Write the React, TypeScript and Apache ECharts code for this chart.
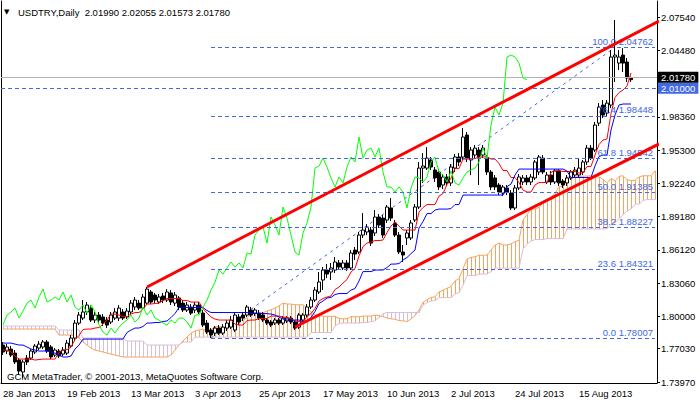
import React, { useEffect, useRef } from 'react';
import * as echarts from 'echarts';

// ---------- data ----------
const symbol = 'USDTRY';
const period = 'Daily';
const dateTicks = ['28 Jan 2013', '19 Feb 2013', '13 Mar 2013', '3 Apr 2013', '25 Apr 2013', '17 May 2013', '10 Jun 2013', '2 Jul 2013', '24 Jul 2013', '15 Aug 2013'];
const TICK_EVERY = 16;
const SLOTS = 164; // visible bar slots (bars + projected cloud)

const open = [
  1.7737, 1.7682, 1.7700, 1.7663, 1.7599, 1.7489, 1.7617, 1.7617, 1.7673, 1.7709,
  1.7719, 1.7765, 1.7719, 1.7645, 1.7682, 1.7654, 1.7663, 1.7728, 1.7801, 1.7939,
  1.7985, 1.8041, 1.8077, 1.7967, 1.8013, 1.7995, 1.7967, 1.7949, 1.7985, 1.7985,
  1.8041, 1.7995, 1.8041, 1.8087, 1.8123, 1.8077, 1.8123, 1.8225, 1.8197, 1.8133,
  1.8188, 1.8151, 1.8216, 1.8123, 1.8170, 1.8123, 1.8059, 1.8087, 1.8059, 1.8105,
  1.8031, 1.7939, 1.7875, 1.7847, 1.7893, 1.7847, 1.7893, 1.7902, 1.7875, 1.7995,
  1.8013, 1.8013, 1.8059, 1.8031, 1.8031, 1.8013, 1.7967, 1.7949, 1.7939, 1.7967,
  1.7939, 1.7958, 1.7985, 1.7949, 1.7902, 1.7967, 1.8013, 1.8087, 1.8151, 1.8225,
  1.8335, 1.8427, 1.8409, 1.8427, 1.8492, 1.8446, 1.8492, 1.8446, 1.8611, 1.8593,
  1.8749, 1.8777, 1.8795, 1.8768, 1.8915, 1.8905, 1.8887, 1.8998, 1.8860, 1.8749,
  1.8593, 1.8722, 1.8722, 1.8887, 1.9007, 1.9365, 1.9365, 1.9439, 1.9347, 1.9329,
  1.9209, 1.9283, 1.9228, 1.9365, 1.9467, 1.9467, 1.9669, 1.9439, 1.9485, 1.9531,
  1.9485, 1.9457, 1.9329, 1.9274, 1.9209, 1.9135, 1.9182, 1.9135, 1.8998, 1.9182,
  1.9237, 1.9274, 1.9237, 1.9274, 1.9329, 1.9457, 1.9237, 1.9301, 1.9237, 1.9338,
  1.9246, 1.9228, 1.9274, 1.9301, 1.9301, 1.9329, 1.9421, 1.9549, 1.9531, 1.9779,
  1.9945, 1.9871, 1.9945, 2.0387, 2.0331, 2.0405, 2.0341, 2.0199,
];
const high = [
  1.7765, 1.7746, 1.7728, 1.7691, 1.7617, 1.7599, 1.7645, 1.7700, 1.7746, 1.7774,
  1.7783, 1.7783, 1.7737, 1.7709, 1.7700, 1.7719, 1.7783, 1.7829, 1.7967, 1.8041,
  1.8151, 1.8133, 1.8105, 1.8041, 1.8041, 1.8022, 1.7995, 1.8041, 1.8077, 1.8105,
  1.8068, 1.8077, 1.8151, 1.8179, 1.8151, 1.8207, 1.8271, 1.8243, 1.8216, 1.8207,
  1.8216, 1.8252, 1.8243, 1.8225, 1.8188, 1.8151, 1.8133, 1.8114, 1.8133, 1.8133,
  1.8059, 1.7967, 1.7893, 1.7912, 1.7921, 1.7930, 1.7967, 1.8004, 1.8041, 1.8022,
  1.8041, 1.8105, 1.8087, 1.8077, 1.8059, 1.8041, 1.7985, 1.7967, 1.7985, 1.7985,
  1.8004, 1.8004, 1.8004, 1.7967, 1.8031, 1.8031, 1.8114, 1.8179, 1.8271, 1.8409,
  1.8455, 1.8483, 1.8492, 1.8547, 1.8519, 1.8519, 1.8519, 1.8611, 1.8639, 1.8777,
  1.8951, 1.8850, 1.8823, 1.8979, 1.8942, 1.8933, 1.9025, 1.9089, 1.8887, 1.8777,
  1.8657, 1.8795, 1.8887, 1.9034, 1.9421, 1.9503, 1.9558, 1.9467, 1.9375, 1.9356,
  1.9310, 1.9310, 1.9402, 1.9494, 1.9503, 1.9733, 1.9697, 1.9558, 1.9577, 1.9558,
  1.9577, 1.9485, 1.9347, 1.9301, 1.9228, 1.9209, 1.9209, 1.9163, 1.9209, 1.9310,
  1.9301, 1.9301, 1.9310, 1.9439, 1.9485, 1.9485, 1.9329, 1.9338, 1.9356, 1.9356,
  1.9264, 1.9301, 1.9347, 1.9375, 1.9457, 1.9439, 1.9577, 1.9577, 1.9789, 1.9963,
  1.9991, 1.9991, 2.0451, 2.0727, 2.0451, 2.0469, 2.0377, 2.02055,
];
const low = [
  1.7645, 1.7654, 1.7627, 1.7562, 1.7461, 1.7433, 1.7553, 1.7599, 1.7654, 1.7691,
  1.7700, 1.7663, 1.7608, 1.7627, 1.7617, 1.7636, 1.7645, 1.7709, 1.7783, 1.7921,
  1.7967, 1.8013, 1.7949, 1.7939, 1.7939, 1.7912, 1.7893, 1.7930, 1.7967, 1.7958,
  1.7967, 1.7976, 1.8022, 1.8059, 1.8059, 1.8059, 1.8105, 1.8114, 1.8123, 1.8114,
  1.8123, 1.8133, 1.8105, 1.8096, 1.8059, 1.8041, 1.8041, 1.8013, 1.8031, 1.8022,
  1.7902, 1.7838, 1.7801, 1.7820, 1.7829, 1.7829, 1.7866, 1.7884, 1.7857, 1.7921,
  1.7958, 1.7995, 1.7995, 1.8004, 1.7967, 1.7949, 1.7921, 1.7902, 1.7921, 1.7921,
  1.7921, 1.7939, 1.7930, 1.7875, 1.7884, 1.7949, 1.7995, 1.8068, 1.8133, 1.8207,
  1.8243, 1.8353, 1.8335, 1.8400, 1.8427, 1.8427, 1.8418, 1.8427, 1.8519, 1.8574,
  1.8722, 1.8749, 1.8648, 1.8740, 1.8814, 1.8722, 1.8860, 1.8878, 1.8731, 1.8574,
  1.8501, 1.8657, 1.8703, 1.8869, 1.8988, 1.9228, 1.9347, 1.9347, 1.9237, 1.9163,
  1.9172, 1.9200, 1.9200, 1.9329, 1.9384, 1.9439, 1.9421, 1.9301, 1.9457, 1.9209,
  1.9457, 1.9301, 1.9163, 1.9163, 1.9117, 1.9108, 1.9117, 1.8979, 1.8979, 1.9163,
  1.9209, 1.9209, 1.9209, 1.9255, 1.9301, 1.9310, 1.9218, 1.9209, 1.9218, 1.9200,
  1.9182, 1.9200, 1.9255, 1.9274, 1.9283, 1.9301, 1.9393, 1.9439, 1.9513, 1.9752,
  1.9825, 1.9844, 1.9917, 2.0157, 2.0267, 2.0249, 2.0157, 2.01573,
];
const close = [
  1.7673, 1.7719, 1.7645, 1.7581, 1.7498, 1.7581, 1.7581, 1.7682, 1.7728, 1.7746,
  1.7765, 1.7682, 1.7627, 1.7691, 1.7636, 1.7691, 1.7755, 1.7801, 1.7939, 1.8013,
  1.8041, 1.8105, 1.7967, 1.8013, 1.7967, 1.7939, 1.7921, 1.8013, 1.8041, 1.8077,
  1.7985, 1.8050, 1.8123, 1.8151, 1.8077, 1.8179, 1.8252, 1.8133, 1.8151, 1.8179,
  1.8151, 1.8225, 1.8133, 1.8197, 1.8087, 1.8059, 1.8105, 1.8031, 1.8105, 1.8041,
  1.7921, 1.7857, 1.7829, 1.7893, 1.7847, 1.7902, 1.7939, 1.7967, 1.8013, 1.7949,
  1.7985, 1.8087, 1.8013, 1.8059, 1.7985, 1.7967, 1.7939, 1.7921, 1.7967, 1.7939,
  1.7985, 1.7985, 1.7949, 1.7893, 1.8013, 1.8013, 1.8087, 1.8151, 1.8243, 1.8317,
  1.8427, 1.8390, 1.8446, 1.8501, 1.8455, 1.8492, 1.8446, 1.8584, 1.8574, 1.8749,
  1.8795, 1.8823, 1.8675, 1.8915, 1.8841, 1.8749, 1.9007, 1.8905, 1.8749, 1.8593,
  1.8565, 1.8768, 1.8860, 1.9007, 1.9365, 1.9384, 1.9457, 1.9375, 1.9274, 1.9191,
  1.9283, 1.9228, 1.9375, 1.9467, 1.9421, 1.9651, 1.9457, 1.9531, 1.9549, 1.9467,
  1.9549, 1.9329, 1.9191, 1.9191, 1.9145, 1.9191, 1.9145, 1.8998, 1.9182, 1.9283,
  1.9274, 1.9237, 1.9283, 1.9421, 1.9467, 1.9329, 1.9301, 1.9237, 1.9338, 1.9228,
  1.9209, 1.9274, 1.9329, 1.9347, 1.9365, 1.9421, 1.9549, 1.9457, 1.9761, 1.9927,
  1.9853, 1.9963, 2.0387, 2.0405, 2.0387, 2.0331, 2.0193, 2.0178,
];

// Ichimoku values read from the picture where the visible bars cannot supply the look-back
const tenkanEarly = [1.7691, 1.7691, 1.7673, 1.7636, 1.7608, 1.7608, 1.7608, 1.7608];
const kijunEarly = [
  1.7755, 1.7755, 1.7755, 1.7746, 1.7737, 1.7737, 1.7719, 1.7700, 1.7691, 1.7682,
  1.7682, 1.7682, 1.7673, 1.7663, 1.7645, 1.7627, 1.7627, 1.7636, 1.7700, 1.7737,
  1.7792, 1.7792, 1.7792, 1.7792, 1.7792,
];
const senkouAEarly = [
  1.7884, 1.7884, 1.7884, 1.7884, 1.7884, 1.7884, 1.7884, 1.7884, 1.7884, 1.7884,
  1.7884, 1.7884, 1.7884, 1.7884, 1.7829, 1.7829, 1.7829, 1.7829, 1.7829, 1.7801,
  1.7765, 1.7737, 1.7709, 1.7691, 1.7682, 1.7673, 1.7663, 1.7654, 1.7645, 1.7636,
  1.7627, 1.7627, 1.7627, 1.7627, 1.7627, 1.7627, 1.7627, 1.7627, 1.7627, 1.7627,
  1.7627, 1.7627, 1.7645, 1.7691, 1.7737, 1.7774, 1.7810, 1.7847, 1.7866, 1.7875,
  1.7884,
];
const senkouBEarly = [
  1.7912, 1.7912, 1.7912, 1.7912, 1.7912, 1.7912, 1.7912, 1.7912, 1.7912, 1.7912,
  1.7912, 1.7912, 1.7912, 1.7912, 1.7875, 1.7875, 1.7875, 1.7875, 1.7875, 1.7875,
  1.7801, 1.7801, 1.7801, 1.7801, 1.7801, 1.7801, 1.7801, 1.7801, 1.7801, 1.7801,
  1.7801, 1.7774, 1.7774, 1.7774, 1.7774, 1.7774, 1.7737, 1.7737, 1.7737, 1.7737,
  1.7737, 1.7737, 1.7737, 1.7737, 1.7737, 1.7765, 1.7765, 1.7765, 1.7810, 1.7810,
  1.7810, 1.7810, 1.7810, 1.7810, 1.7810, 1.7810, 1.7810, 1.7810, 1.7810, 1.7810,
  1.7810, 1.7810, 1.7810, 1.7810, 1.7810, 1.7810, 1.7810, 1.7810, 1.7810, 1.7810,
  1.7810, 1.7810, 1.7810, 1.7810, 1.7810, 1.7810, 1.7810,
];

const yTicks = [2.0754, 2.0448, 1.9836, 1.953, 1.9224, 1.8918, 1.8612, 1.8306, 1.8, 1.7703, 1.7397];
const fibLevels = [0, 23.6, 38.2, 50, 61.8, 76.4, 100];
const fibPrices = [1.78007, 1.84321, 1.88227, 1.91385, 1.94542, 1.98448, 2.04762];
const fibStart = 52;
const fibEnd = 153;
const upperChannel = [[36, 1.8271], [164, 2.0718]];
const lowerChannel = [[73, 1.7903], [164, 1.9587]];
const levelLine = 2.01;
const Y_MIN = 1.73878;
const Y_MAX = 2.09022;

// ---------- derived (indicator definitions) ----------
const N = close.length;
const midRange = (a: number, b: number) => {
  let h = -Infinity, l = Infinity;
  for (let k = a; k <= b; k++) { h = Math.max(h, high[k]); l = Math.min(l, low[k]); }
  return (h + l) / 2;
};
const tenkan = close.map((_, i) => (i < tenkanEarly.length ? tenkanEarly[i] : midRange(i - 8, i)));
const kijun = close.map((_, i) => (i < kijunEarly.length ? kijunEarly[i] : midRange(i - 25, i)));
const spanA: number[] = [];
const spanB: number[] = [];
for (let i = 0; i < SLOTS; i++) {
  spanA.push(i < senkouAEarly.length ? senkouAEarly[i] : (tenkan[i - 26] + kijun[i - 26]) / 2);
  spanB.push(i < senkouBEarly.length ? senkouBEarly[i] : midRange(i - 77, i - 26));
}
const chikou = close.slice(26);
const slots = Array.from({ length: SLOTS }, (_, i) => i);

const FONT = "'Liberation Sans', Arial, sans-serif";
const FIB = '#4169E1';
const fmt = (v: number) => v.toFixed(5);
const last = N - 1;
const titleText = `${symbol},${period}  ${fmt(open[last])} ${fmt(high[last])} ${fmt(low[last])} ${fmt(close[last])}`;

const labelInterval = (i: number) => i % TICK_EVERY === 0 && i / TICK_EVERY < dateTicks.length;

export default function App() {
  const ref = useRef<HTMLDivElement>(null);
  useEffect(() => {
    if (!ref.current) return;
    const chart = echarts.init(ref.current, null, { renderer: 'svg' });
    const option: any = {
      animation: false,
      backgroundColor: '#ffffff',
      textStyle: { fontFamily: FONT, fontSize: 9.5 },
      grid: { left: 1, right: 43, top: 1, bottom: 19 },
      xAxis: {
        type: 'category',
        data: slots,
        boundaryGap: true,
        axisLine: { lineStyle: { color: '#000', width: 1 } },
        axisTick: { alignWithLabel: true, interval: labelInterval, length: 4, lineStyle: { color: '#000' } },
        axisLabel: {
          interval: labelInterval,
          formatter: (_v: any, i: number) => dateTicks[i / TICK_EVERY] ?? '',
          align: 'left',
          margin: 5,
          color: '#000',
          fontSize: 9.5,
          fontFamily: FONT,
        },
        splitLine: { show: false },
      },
      yAxis: [
        {
          type: 'value',
          position: 'right',
          min: Y_MIN,
          max: Y_MAX,
          axisLine: { show: true, lineStyle: { color: '#000' } },
          axisTick: { show: true, customValues: yTicks, length: 3, lineStyle: { color: '#000' } },
          axisLabel: { customValues: yTicks, formatter: (v: number) => v.toFixed(5), color: '#000', fontSize: 9.5, margin: 4, fontFamily: FONT },
          splitLine: { show: false },
        },
        {
          type: 'value',
          position: 'left',
          min: Y_MIN,
          max: Y_MAX,
          axisLine: { show: true, lineStyle: { color: '#000' } },
          axisTick: { show: false },
          axisLabel: { show: false },
          splitLine: { show: false },
        },
      ],
      graphic: [
        { type: 'text', left: 4, top: 8, style: { text: '▼', fontSize: 7, fill: '#000', fontFamily: 'DejaVu Sans' } },
        { type: 'text', left: 18, top: 7, style: { text: titleText, fontSize: 9.5, fill: '#000', fontFamily: FONT } },
        { type: 'text', left: 7, top: 371, style: { text: 'GCM MetaTrader, © 2001-2013, MetaQuotes Software Corp.', fontSize: 9.5, fill: '#000', fontFamily: FONT } },
      ],
      series: [
        {
          type: 'custom',
          name: 'cloud',
          z: 1,
          silent: true,
          data: slots.map((i) => [i, spanA[i], spanB[i]]),
          encode: { x: 0, y: [1, 2] },
          renderItem: (_p: any, api: any) => {
            const i = api.value(0), a = api.value(1), b = api.value(2);
            const pa = api.coord([i, a]);
            const pb = api.coord([i, b]);
            const x = Math.round(pa[0]) + 0.5;
            return {
              type: 'line',
              shape: { x1: x, y1: pa[1], x2: x, y2: pb[1] },
              style: { stroke: a >= b ? '#F4A460' : '#D8BFD8', lineWidth: 1 },
            };
          },
        },
        { type: 'line', name: 'spanA', z: 1, data: spanA, showSymbol: false, symbol: 'none', lineStyle: { color: '#F4A460', width: 1 }, silent: true },
        { type: 'line', name: 'spanB', z: 1, data: spanB, showSymbol: false, symbol: 'none', lineStyle: { color: '#D8BFD8', width: 1 }, silent: true },
        {
          type: 'line',
          name: 'fib',
          z: 2,
          data: [[fibStart, fibPrices[0]], [fibEnd, fibPrices[fibPrices.length - 1]]],
          showSymbol: false,
          symbol: 'none',
          lineStyle: { color: FIB, width: 1, type: [3, 4] },
          silent: true,
          markLine: {
            silent: true,
            symbol: ['none', 'none'],
            animation: false,
            lineStyle: { color: FIB, width: 1, type: [4, 3] },
            data: [
              ...fibPrices.map((p, k) => [
                {
                  coord: [fibStart, p],
                  label: {
                    show: true,
                    position: 'insideEndTop',
                    formatter: `${fibLevels[k].toFixed(1)} ${fmt(p)}`,
                    color: FIB,
                    fontSize: 9.5,
                    fontFamily: FONT,
                    distance: [2, 1],
                  },
                },
                { coord: [SLOTS - 1, p] },
              ]),
              {
                yAxis: levelLine,
                lineStyle: { color: FIB, width: 1, type: [4, 3] },
                label: { show: true, position: 'end', formatter: fmt(levelLine), backgroundColor: FIB, color: '#fff', padding: [1, 3, 0, 3], distance: 1, fontSize: 9.5, fontFamily: FONT },
              },
              {
                yAxis: close[last],
                lineStyle: { color: '#B4B4B4', width: 1, type: 'solid' },
                label: { show: true, position: 'end', formatter: fmt(close[last]), backgroundColor: '#000', color: '#fff', padding: [1, 3, 0, 3], distance: 1, fontSize: 9.5, fontFamily: FONT },
              },
            ],
          },
        },
        {
          type: 'candlestick',
          name: symbol,
          z: 3,
          barWidth: 3,
          data: open.map((o, i) => [o, close[i], low[i], high[i]]),
          itemStyle: { color: '#ffffff', color0: '#000000', borderColor: '#000000', borderColor0: '#000000', borderWidth: 1 },
          silent: true,
        },
        { type: 'line', name: 'tenkan', z: 4, data: tenkan, showSymbol: false, symbol: 'none', lineStyle: { color: '#FF0000', width: 1 }, silent: true },
        { type: 'line', name: 'kijun', z: 4, data: kijun, showSymbol: false, symbol: 'none', lineStyle: { color: '#0000FF', width: 1 }, silent: true },
        { type: 'line', name: 'chikou', z: 4, data: chikou, showSymbol: false, symbol: 'none', lineStyle: { color: '#00FF00', width: 1 }, silent: true },
        { type: 'line', name: 'upper', z: 5, data: upperChannel, showSymbol: false, symbol: 'none', clip: true, lineStyle: { color: '#FF0000', width: 3 }, silent: true },
        { type: 'line', name: 'lower', z: 5, data: lowerChannel, showSymbol: false, symbol: 'none', clip: true, lineStyle: { color: '#FF0000', width: 3 }, silent: true },
      ],
    };
    chart.setOption(option);
    return () => chart.dispose();
  }, []);
  return <div ref={ref} style={{ position: 'fixed', left: 0, top: 0, width: 700, height: 402 }} />;
}
